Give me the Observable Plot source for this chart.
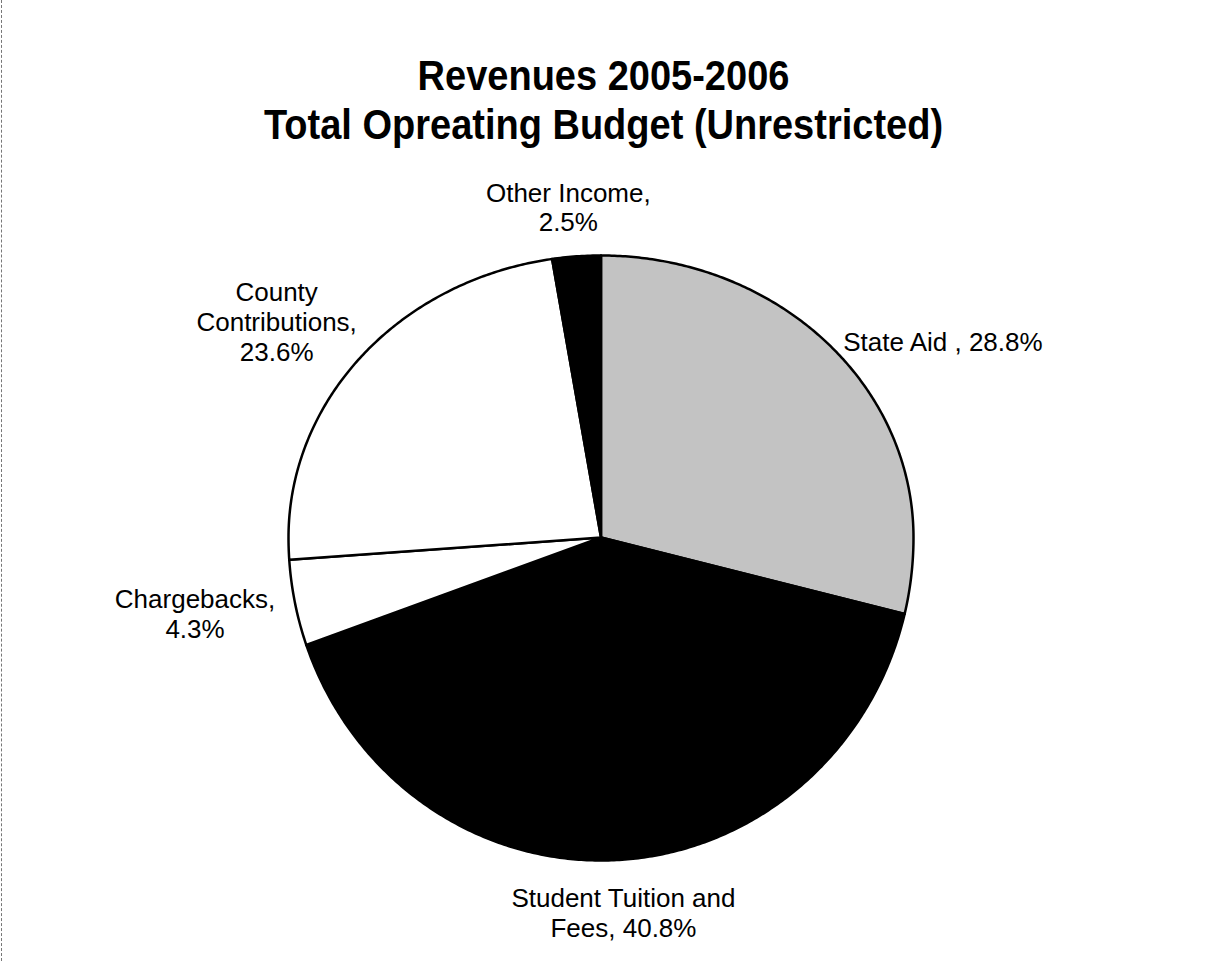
<!DOCTYPE html>
<html>
<head>
<meta charset="utf-8">
<script src="https://cdn.jsdelivr.net/npm/d3@7"></script>
<script src="https://cdn.jsdelivr.net/npm/@observablehq/plot@0.6"></script>
<style>
  html, body { margin: 0; padding: 0; background: #fff; }
  #wrap { width: 1207px; height: 961px; position: relative; overflow: hidden; background: #fff; }
  #chart { position: absolute; left: 0; top: 0; }
  #chart svg { display: block; }
  #title { position: absolute; left: 0; top: 0; width: 1207px; padding-top: 47px; text-align: center;
           font-family: "Liberation Sans", Arial, Helvetica, sans-serif; font-weight: bold; font-size: 38px;
           line-height: 44px; color: #000; transform: scaleY(1.1); transform-origin: 50% 0; }
  #edge { position: absolute; left: 1px; top: 0; width: 0; height: 961px; border-left: 1px dashed #777; }
</style>
</head>
<body>
<div id="wrap">
  <div id="chart"></div>
  <div id="title">Revenues 2005-2006<br>Total Opreating Budget (Unrestricted)</div>
  <div id="edge"></div>
</div>
<script>
// ---- data ----
const categories = ["State Aid", "Student Tuition and Fees", "Chargebacks", "County Contributions", "Other Income"];
const shares = [28.8, 40.8, 4.3, 23.6, 2.5];
const labels = [
  "State Aid , 28.8%",
  "Student Tuition and\nFees, 40.8%",
  "Chargebacks,\n4.3%",
  "County\nContributions,\n23.6%",
  "Other Income,\n2.5%"
];
const sliceFills = ["#c3c3c3", "#000000", "#ffffff", "#ffffff", "#000000"];

// the scanned pie is slightly squashed above its centre
const upperSquash = 282 / 323;
const py = c => (c >= 0 ? c * upperSquash : c);

// ---- geometry derived from the data ----
const total = d3.sum(shares);
let cum = 0;
const slices = shares.map((v, i) => {
  const a0 = cum / total * 2 * Math.PI;
  cum += v;
  const a1 = cum / total * 2 * Math.PI;
  return {i, name: categories[i], value: v, a0, a1, mid: (a0 + a1) / 2};
});

const outline = [];
for (const s of slices) {
  outline.push({name: s.name, fill: sliceFills[s.i], x: 0, y: 0});
  const steps = Math.max(2, Math.ceil((s.a1 - s.a0) / (Math.PI / 360)));
  for (let k = 0; k <= steps; k++) {
    const a = s.a0 + (s.a1 - s.a0) * k / steps;
    outline.push({name: s.name, fill: sliceFills[s.i], x: Math.sin(a), y: py(Math.cos(a))});
  }
  outline.push({name: s.name, fill: sliceFills[s.i], x: 0, y: 0});
}

// label boxes: placed just outside the slice's mid-angle, box offset toward the outside
const fontSize = 26, lineHeight = 1.15;
const ctx = document.createElement("canvas").getContext("2d");
ctx.font = `${fontSize}px "Liberation Sans", Arial, sans-serif`;
const labelR = 1.07;

const textMarks = slices.map(s => {
  const lines = labels[s.i].split("\n");
  const w = d3.max(lines, l => ctx.measureText(l).width) || 0;
  const h = lines.length * fontSize * lineHeight;
  const sx = Math.sin(s.mid), cy = Math.cos(s.mid);
  return Plot.text([{text: labels[s.i], x: sx * labelR, y: py(cy * labelR)}], {
    x: "x", y: "y", text: "text",
    textAnchor: "middle", lineAnchor: "middle", lineHeight,
    dx: sx * w / 2, dy: -cy * h / 2,
    fontSize, fill: "#000"
  });
});

const chart = Plot.plot({
  width: 1207,
  height: 961,
  marginLeft: 288,
  marginRight: 294,
  marginTop: 255,
  marginBottom: 101,
  x: {domain: [-1, 1], axis: null},
  y: {domain: [-1, upperSquash], axis: null},
  color: {type: "identity"},
  style: {fontFamily: "'Liberation Sans', Arial, Helvetica, sans-serif", background: "#fff", overflow: "visible"},
  marks: [
    Plot.line(outline, {
      x: "x", y: "y", z: "name", fill: "fill",
      stroke: "#000", strokeWidth: 2.5, strokeLinejoin: "round", curve: "linear"
    }),
    ...textMarks
  ]
});
document.getElementById("chart").appendChild(chart);
</script>
</body>
</html>
